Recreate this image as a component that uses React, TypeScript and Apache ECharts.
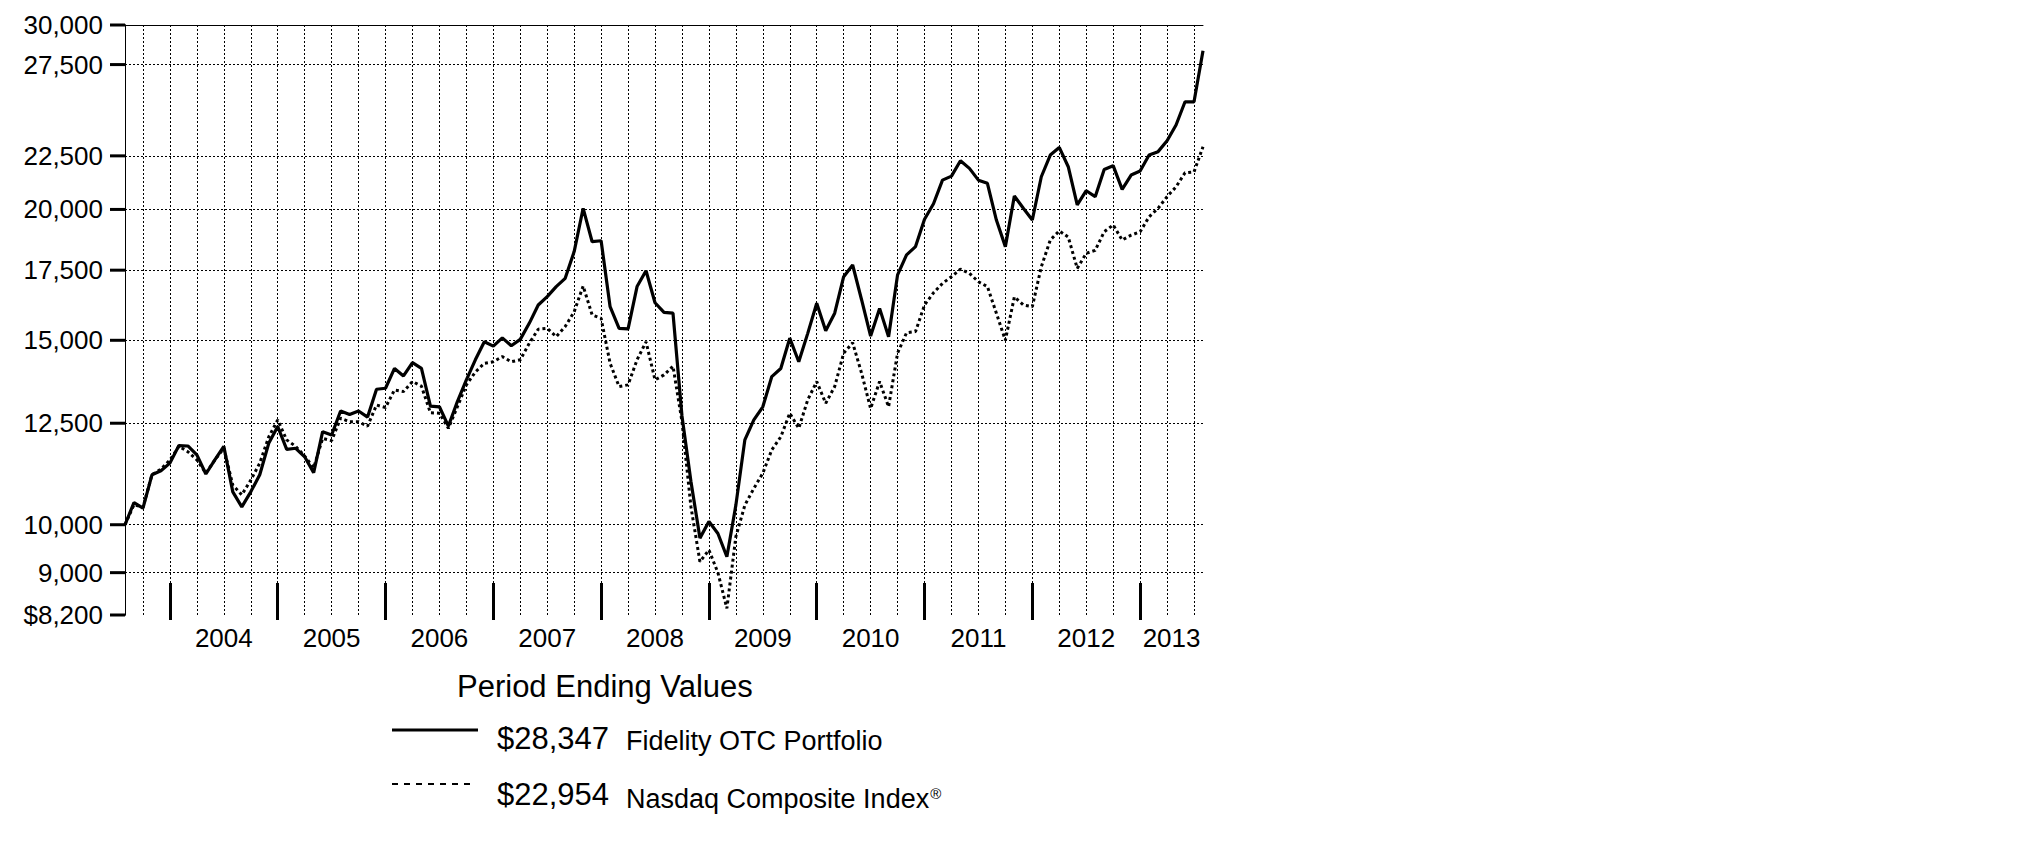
import React, { useEffect, useRef } from "react";
import * as echarts from "echarts";

// ---- categories: month ends from Jul 2003 to Jul 2013 ----
const startYear = 2003;
const startMonth = 7;
const monthCount = 121;
const months: string[] = [];
for (let i = 0; i < monthCount; i++) {
  const m = startMonth - 1 + i;
  months.push(`${startYear + Math.floor(m / 12)}-${String((m % 12) + 1).padStart(2, "0")}`);
}

// ---- series values ----
const fidelity = [
  10000, 10500, 10370, 11160, 11260, 11450, 11900, 11890, 11660, 11180, 11530, 11880,
  10750, 10400, 10750, 11160, 11960, 12410, 11800, 11830, 11610, 11210, 12270, 12180,
  12840, 12740, 12840, 12670, 13470, 13500, 14100, 13870, 14280, 14100, 12980, 12960,
  12420, 13110, 13750, 14370, 14950, 14810, 15080, 14820, 15030, 15570, 16210, 16510,
  16880, 17190, 18230, 20050, 18630, 18670, 16150, 15400, 15380, 16880, 17480, 16290,
  15950, 15920, 12700, 11000, 9710, 10070, 9810, 9320, 10440, 12050, 12590, 12960,
  13850, 14100, 15070, 14310, 15230, 16270, 15320, 15920, 17250, 17700, 16390, 15140,
  16090, 15120, 17320, 18100, 18430, 19570, 20250, 21330, 21520, 22260, 21890, 21330,
  21180, 19540, 18430, 20600, 20050, 19540, 21490, 22540, 22920, 21970, 20200, 20840,
  20570, 21840, 22020, 20900, 21570, 21760, 22540, 22710, 23260, 24080, 25340, 25340,
  28347,
];
const nasdaq = [
  10000, 10450, 10390, 11160, 11300, 11530, 11880, 11740, 11530, 11200, 11530, 11830,
  10910, 10680, 11030, 11450, 12130, 12590, 12050, 11880, 11630, 11330, 12090, 12030,
  12640, 12540, 12540, 12420, 13010, 12940, 13450, 13400, 13700, 13560, 12790, 12780,
  12360, 12960, 13600, 13990, 14260, 14310, 14470, 14310, 14370, 14900, 15370, 15400,
  15120, 15460, 15970, 16900, 15860, 15740, 14260, 13550, 13600, 14370, 14950, 13750,
  13900, 14170, 12550, 10400, 9220, 9460, 9000, 8320, 9740, 10440, 10830, 11200,
  11790, 12130, 12780, 12360, 13160, 13700, 13060, 13550, 14580, 14920, 13950, 12910,
  13700, 12960, 14580, 15250, 15290, 16210, 16650, 17000, 17250, 17540, 17380, 17060,
  16880, 15920, 15000, 16500, 16210, 16150, 17630, 18700, 19080, 18820, 17570, 18160,
  18280, 19040, 19330, 18700, 18900, 19040, 19680, 20050, 20570, 21020, 21680, 21720,
  22954,
];

// ---- tick labels ----
const yTickValues = [8200, 9000, 10000, 12500, 15000, 17500, 20000, 22500, 27500, 30000];
const yTickLabels = ["$8,200", "9,000", "10,000", "12,500", "15,000", "17,500", "20,000", "22,500", "27,500", "30,000"];
const yearLabels = ["2004", "2005", "2006", "2007", "2008", "2009", "2010", "2011", "2012", "2013"];

// ---- legend texts ----
const legendTitle = "Period Ending Values";
const seriesNames = ["Fidelity OTC Portfolio", "Nasdaq Composite Index"];
const endingValues = ["$28,347", "$22,954"];

const FONT = "'Liberation Sans', Arial, Helvetica, sans-serif";

export default function App() {
  const ref = useRef<HTMLDivElement>(null);

  useEffect(() => {
    if (!ref.current) return;
    const chart = echarts.init(ref.current, undefined, { renderer: "svg" });

    const yearTickIdx = months.map((m, i) => (m.endsWith("-12") ? i : -1)).filter((i) => i >= 0);
    const quarterIdx = months
      .map((m, i) => (/-(03|06|09|12)$/.test(m) ? i : -1))
      .filter((i) => i >= 0);
    const yearMid = yearLabels.map((y) => {
      const s = months.indexOf(`${Number(y) - 1}-12`);
      let e = months.indexOf(`${y}-12`);
      if (e < 0) e = months.length - 1;
      return (Math.max(s, 0) + e) / 2;
    });

    const fidData = fidelity.map((v, i) => [i, v]);
    const nasData = nasdaq.map((v, i) => [i, v]);

    const gridLineStyle = { color: "#000", width: 1, type: [2, 2] as any };
    const hiddenLine = { color: "rgba(0,0,0,0)", width: 0, type: "solid" };

    const option: any = {
      animation: false,
      textStyle: { fontFamily: FONT, color: "#000" },
      grid: [
        { left: 125, top: 25, width: 1078, height: 590, containLabel: false, outerBoundsMode: "none" },
        { left: 125, top: 25, width: 1078, height: 595, containLabel: false, outerBoundsMode: "none" },
      ],
      xAxis: [
        {
          type: "value",
          gridIndex: 0,
          min: 0,
          max: months.length - 1,
          position: "bottom",
          axisLine: { show: false },
          splitLine: { show: false },
          axisTick: { show: false },
          axisLabel: { show: false },
        },
        {
          type: "value",
          gridIndex: 0,
          min: 0,
          max: 1,
          position: "top",
          axisLine: { show: true, lineStyle: { color: "#000", width: 1 } },
          axisTick: { show: false },
          axisLabel: { show: false },
          splitLine: { show: false },
        },
        {
          type: "value",
          gridIndex: 1,
          min: 0,
          max: months.length - 1,
          position: "bottom",
          axisLine: { show: false },
          splitLine: { show: false },
          axisTick: {
            show: true,
            inside: true,
            length: 37,
            customValues: yearTickIdx,
            lineStyle: { color: "#000", width: 3 },
          },
          axisLabel: {
            show: true,
            customValues: yearMid,
            formatter: (v: number) => {
              const k = yearMid.findIndex((x) => Math.abs(x - v) < 1e-6);
              return k >= 0 ? yearLabels[k] : "";
            },
            fontSize: 26,
            fontFamily: FONT,
            color: "#000",
            margin: 5,
          },
        },
      ],
      yAxis: [
        {
          type: "log",
          gridIndex: 0,
          min: 8200,
          max: 30000,
          position: "left",
          axisLine: { show: true, lineStyle: { color: "#000", width: 1 } },
          axisTick: { show: false },
          axisLabel: { show: false },
          splitLine: { show: false },
          minorSplitLine: { show: false },
        },
        {
          type: "value",
          gridIndex: 0,
          min: 0,
          max: 1,
          position: "right",
          axisLine: { show: true, lineStyle: { color: "#000", width: 1 } },
          axisTick: { show: false },
          axisLabel: { show: false },
          splitLine: { show: false },
        },
        {
          type: "value",
          gridIndex: 1,
          min: 0,
          max: 1,
          show: false,
        },
      ],
      series: [
        {
          name: "grid",
          type: "line",
          xAxisIndex: 0,
          yAxisIndex: 0,
          data: [],
          silent: true,
          z: 1,
          markLine: {
            silent: true,
            symbol: "none",
            z: 1,
            animation: false,
            lineStyle: gridLineStyle,
            emphasis: { disabled: true },
            label: {
              show: true,
              position: "start",
              distance: 0,
              rich: {
                v: { fontSize: 26, fontFamily: FONT, color: "#000", padding: [0, 7, 0, 0] },
                t: { width: 15, height: 3, backgroundColor: "#000" },
              },
            },
            data: [
              ...quarterIdx.map((i) => ({ xAxis: i, label: { show: false } })),
              ...yTickValues.map((v, k) => ({
                yAxis: v,
                label: { show: true, formatter: `{v|${yTickLabels[k]}}{t|}` },
                lineStyle: v === 8200 || v === 30000 ? hiddenLine : gridLineStyle,
              })),
            ],
          },
        },
        {
          name: seriesNames[1],
          type: "line",
          xAxisIndex: 0,
          yAxisIndex: 0,
          data: nasData,
          showSymbol: false,
          symbol: "none",
          z: 10,
          lineStyle: { color: "#000", width: 3, type: [3, 3] },
        },
        {
          name: seriesNames[0],
          type: "line",
          xAxisIndex: 0,
          yAxisIndex: 0,
          data: fidData,
          showSymbol: false,
          symbol: "none",
          z: 11,
          lineStyle: { color: "#000", width: 3.2 },
        },
      ],
      graphic: [
        {
          type: "text",
          x: 457,
          y: 686,
          style: { text: legendTitle, fontSize: 31, fontFamily: FONT, fill: "#000", verticalAlign: "middle" },
        },
        {
          type: "line",
          shape: { x1: 392, y1: 730, x2: 478, y2: 730 },
          style: { stroke: "#000", lineWidth: 3 },
        },
        {
          type: "text",
          x: 497,
          y: 738,
          style: { text: endingValues[0], fontSize: 31, fontFamily: FONT, fill: "#000", verticalAlign: "middle" },
        },
        {
          type: "text",
          x: 626,
          y: 741,
          style: { text: seriesNames[0], fontSize: 27, fontFamily: FONT, fill: "#000", verticalAlign: "middle" },
        },
        {
          type: "line",
          shape: { x1: 392, y1: 784, x2: 475, y2: 784 },
          style: { stroke: "#000", lineWidth: 2, lineDash: [6, 6] },
        },
        {
          type: "text",
          x: 497,
          y: 794,
          style: { text: endingValues[1], fontSize: 31, fontFamily: FONT, fill: "#000", verticalAlign: "middle" },
        },
        {
          type: "text",
          x: 626,
          y: 799,
          style: {
            text: `{n|${seriesNames[1]}}{r|®}`,
            fontSize: 27,
            fontFamily: FONT,
            fill: "#000",
            verticalAlign: "middle",
            rich: {
              n: { fontSize: 27, fontFamily: FONT, fill: "#000" },
              r: { fontSize: 15, fontFamily: FONT, fill: "#000", verticalAlign: "top", padding: [0, 0, 0, 1] },
            },
          },
        },
      ],
    };

    chart.setOption(option);
    return () => chart.dispose();
  }, []);

  return (
    <div
      ref={ref}
      style={{ position: "fixed", left: 0, top: 0, width: 2025, height: 851, background: "#fff" }}
    />
  );
}
